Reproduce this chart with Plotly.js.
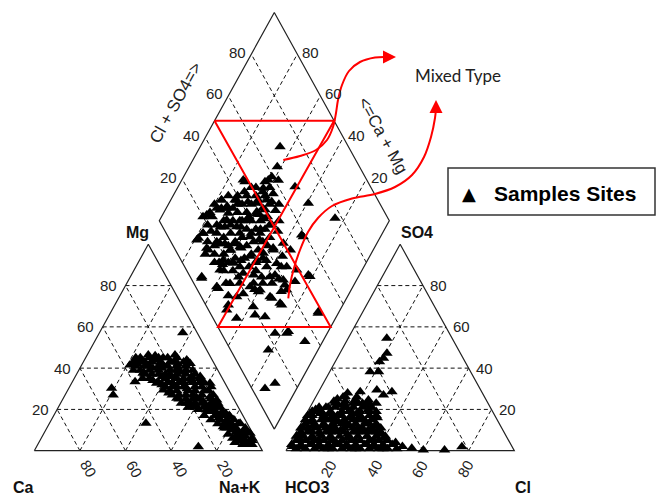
<!DOCTYPE html>
<html><head><meta charset="utf-8">
<script src="https://cdn.plot.ly/plotly-3.0.1.min.js"></script>
<style>html,body{margin:0;padding:0;background:#fff}</style>
</head><body>
<div id="chart" style="width:659px;height:496px"></div>
<script>
// ---------------- DATA (percent values) ----------------
// Cation triangle: Mg % and Na+K % (Ca = 100 - Mg - Na+K)
const cationMg = [57.2,30.2,27,33.4,13.3,1.9,46.4,46.4,43.9,43.9,41.5,42.3,37.5,32.7,29.4,25.4,23,21.3,19.7,14.9,11.6,7.6,3.6,6,42.3,35.9,32.7,24.6,16.5,13.3,8.4,
  44,44,45,43,42,41,40,40,39,38,41,39,37,36,36,35,34,33,32,34,31,30,29,28,27,26,25,24,23,22,21,20,19,18,17,16,15,14,13,12,11,10,9,8,7,6,5,4,3,46,45,43,38,37,35,33,31,29,26,22,20,18,42,40,36,33,
  45,45,45,45,45,43,43,43,43,43,43,43,41,41,41,41,41,41,39,39,39,39,39,39,37,37,37,37,37,37,35,35,35,35,35,33,33,33,33,33,31,31,31,31,31,29,29,29,29,27,27,27,27,27,25,25,25,25,23,23,23,23,23,21,21,21,21,21,19,19,19,17,17,17,15,15,15,13,13,13,11,11,11,9,9,9,7,7,5,5,5,3,3];
const cationNaK = [36.5,18.8,21.1,27.5,42.3,71,26.8,38.5,44.9,31.8,21.2,23.8,29,37.3,41.9,49.8,55.3,60.6,65.8,74,77.1,85,89.9,92.4,47.2,54.8,60.7,67.7,77.6,83.6,90.4,
  25,30,34,38,42,28,32,36,40,45,46,24,33,38,42,48,52,44,40,35,47,52,56,45,50,58,54,62,59,64,57,62,68,71,66,73,70,77,74,80,78,82,85,81,87,84,88,86,92,30,22,27,29,41,30,56,50,60,64,68,66,75,35,43,51,49,
  24,28,32,36,40,22,26,30,34,40,44,46,24,30,34,38,42,46,27,31,35,43,47,50,30,36,39,44,48,52,33,40,45,51,55,38,42,47,53,58,42,45,55,58,62,45,48,53,62,47,53,56,60,65,51,57,60,65,53,57,62,66,69,59,64,66,68,71,67,70,73,71,74,77,74,77,80,77,80,83,79,83,87,84,87,89,86,89,87,90,93,90,94];

// Anion triangle: SO4 % and Cl % (HCO3 = 100 - SO4 - Cl)
const anionSO4 = [54.5,47.2,44.8,43.1,38.3,38.3,28.6,26.2,28.6,29.4,24.6,24.6,27,1.2,0.3,0.3,1.9,
  2,2,3,2,1,3,2,1,3,2,1,4,2,5,6,5,6,4,6,5,7,5,6,8,9,8,9,10,8,9,10,9,8,11,12,12,11,13,12,11,13,12,14,15,15,14,16,15,14,16,17,18,18,17,19,18,20,19,20,21,22,21,23,22,21,25,24,26,23,26,28,19,24,
  1,1,1,1,1,1,1,1,1,1,1,1,3,3,3,3,3,3,3,3,3,3,3,3,5,5,5,5,5,5,5,5,5,5,5,7,7,7,7,7,7,7,7,7,7,7,9,9,9,9,9,9,9,9,9,9,11,11,11,11,11,11,11,11,11,11,13,13,13,13,13,13,13,13,15,15,15,15,15,15,15,15,17,17,17,17,17,17,17,17,19,19,19,19,19,19,19,21,21,21,21,21,21,23,23,23,23,23];
const anionCl = [16.9,20.6,20.3,19.4,17.7,21.4,32.1,12.8,18.2,25.1,18,23.8,29.2,54.5,60,69.3,76.1,
  2,6,10,14,18,22,26,30,34,38,42,46,50,4,8,12,16,20,24,28,32,36,40,3,7,11,15,19,23,27,31,35,38,2,6,10,14,18,22,26,30,34,4,8,12,16,20,24,28,32,1,6,10,14,18,22,26,30,3,8,12,16,20,24,4,10,14,18,28,12,13,2,9,
  4,8,12,16,20,24,28,32,36,40,44,48,1,5,9,13,17,21,25,29,33,37,41,45,2,6,10,14,18,22,26,30,34,38,42,1,4,8,12,16,20,24,28,32,36,40,2,5,10,13,17,21,25,29,33,37,1,4,8,12,16,20,24,28,32,36,2,6,10,14,20,24,28,33,1,4,10,14,18,22,26,30,3,8,12,16,20,24,28,31,2,6,10,15,19,23,27,7,11,15,19,23,27,10,14,18,22,25];

// Diamond: (Cl + SO4) % and (Ca + Mg) %
const diamondClSO4 = [70.3,64.3,59.5,57.2,55.3,53,61.5,46.6,69,77,32.1,38.6,22.7,29,46.5,51.7,53.5,48.6,44.6,31.8,22,11.7,14.3,4.6,22,29.5,32.2,38.2,44.1,40.8,35.6,28.9,23.7,18.4,22,14.6,9.1,15.7,23.9,15.4,7.9,10.2,20.2,22.9,27.2,23.6,29.9,32.7,38.8,39.7,34.7,44.4,40.8,35.7,37.4,42.6,48.5,47.9,58.8,52.1,46.9,23.3,28.4,34.3,16.4,5.7,11.3,12.8,14,5,9.4,9.8,19,33,30.3,26,37.3,39.2,44.4,51.8,47.3,58.5,29.5,67.2,46.3,37.9,
  20,25,30,35,40,45,28,33,38,43,48,18,23,27,32,37,42,47,22,26,31,36,41,17,14,12,16,24,30,35,40,44,50,52,46,39,33,28,21,19,25,31,37,43,49,53,56,34,29,24,27,21,
  16,16,16,16,16,20,20,20,20,20,20,24,24,24,24,24,24,28,28,28,28,28,28,32,32,32,32,32,32,32,36,36,36,36,36,36,40,40,40,40,40,44,44,44,44,44,48,48,48,48,48,52,52,52,56,56,
  26,30,34,38,42,30,20,14,12,45,50,36];
const diamondCaMg = [65.3,61.7,61.7,62.4,63.4,62.6,58,72.1,39.4,24.2,77.9,71.3,80.1,76.2,61.9,58.3,55.7,56.7,59.8,71.8,80.8,79.1,71.7,67.8,72,70.9,64.9,62.2,59.4,53.2,56.7,58.7,62.2,62.8,57.6,61.8,59.2,54.2,50.9,48.1,49.3,43,38.5,31,39.6,44.7,33.6,27.7,28,31.9,38.4,33.6,38.7,42.3,47,43.4,40.7,28.5,33.6,21.1,8.7,22.7,17.6,7.7,21.6,13.8,10.7,78.8,72.8,68.1,58.1,49.8,35.8,26.6,32.5,39.9,36.7,30,26.4,22.2,9,34.7,17.3,49.2,73.3,72.1,
  75,72,68,65,62,58,78,74,70,66,62,70,66,62,60,57,54,51,58,55,52,50,47,62,66,72,78,80,76,71,68,70,66,60,55,52,48,46,52,46,42,42,44,44,46,52,57,63,58,62,70,68,
  60,64,68,74,78,56,60,64,70,78,82,54,58,64,68,74,78,50,54,62,66,72,80,48,52,56,62,68,74,78,46,54,60,64,68,76,50,56,60,64,72,48,52,56,64,68,50,54,58,64,68,48,56,62,52,60,
  44,40,36,34,36,46,50,56,52,38,36,30];

const gridLevels = [20, 40, 60, 80];
const gridLabels = ['20', '40', '60', '80'];
const mixedBoundary = {top: 48, bottom: 49};   // Mixed-type hourglass corners (% on diamond edges)

// ---------------- GEOMETRY (page pixels) ----------------
const CAT = {x0: 34.3, w: 228, yb: 450.7, h: 206.4};
const AN  = {x0: 286,  w: 228.3, yb: 450.7, h: 206.4};
const DIA = {cx: 274.3, cy: 220.8, hw: 115, hh: 208.3};
function catXY(mg, nak) { return [CAT.x0 + CAT.w * (nak + mg / 2) / 100, CAT.yb - CAT.h * mg / 100]; }
function anXY(so4, cl)  { return [AN.x0 + AN.w * (cl + so4 / 2) / 100, AN.yb - AN.h * so4 / 100]; }
function diaXY(a, c)    { return [DIA.cx + DIA.hw * (a - c) / 100, DIA.cy + DIA.hh - DIA.hh * (a + c) / 100]; }

function seg(xs, ys, p, q) { xs.push(p[0], q[0], null); ys.push(p[1], q[1], null); }
function poly(xs, ys, pts) { pts.forEach(p => { xs.push(p[0]); ys.push(p[1]); }); xs.push(null); ys.push(null); }

const gx = [], gy = [];
gridLevels.forEach(k => {
  seg(gx, gy, catXY(k, 0), catXY(k, 100 - k));
  seg(gx, gy, catXY(0, 100 - k), catXY(100 - k, 0));
  seg(gx, gy, catXY(0, k), catXY(100 - k, k));
  seg(gx, gy, anXY(k, 0), anXY(k, 100 - k));
  seg(gx, gy, anXY(0, 100 - k), anXY(100 - k, 0));
  seg(gx, gy, anXY(0, k), anXY(100 - k, k));
  seg(gx, gy, diaXY(k, 0), diaXY(k, 100));
  seg(gx, gy, diaXY(0, k), diaXY(100, k));
});
const ox = [], oy = [];
poly(ox, oy, [catXY(0, 0), catXY(0, 100), catXY(100, 0), catXY(0, 0)]);
poly(ox, oy, [anXY(0, 0), anXY(0, 100), anXY(100, 0), anXY(0, 0)]);
poly(ox, oy, [diaXY(0, 0), diaXY(100, 0), diaXY(100, 100), diaXY(0, 100), diaXY(0, 0)]);

const px = [], py = [];
cationMg.forEach((m, i) => { const p = catXY(m, cationNaK[i]); px.push(p[0]); py.push(p[1]); });
anionSO4.forEach((s, i) => { const p = anXY(s, anionCl[i]); px.push(p[0]); py.push(p[1]); });
diamondClSO4.forEach((a, i) => { const p = diaXY(a, diamondCaMg[i]); px.push(p[0]); py.push(p[1]); });

const rx = [], ry = [];
poly(rx, ry, [diaXY(mixedBoundary.top, 100), diaXY(100, mixedBoundary.top), diaXY(0, mixedBoundary.bottom),
              diaXY(mixedBoundary.bottom, 0), diaXY(mixedBoundary.top, 100)]);

// pointer arrows (decoration, page pixels)
const arrow1X = [283.3, 300, 316, 327, 333, 336, 338, 342, 349, 360, 375, 388];
const arrow1Y = [160, 156, 150, 140, 127, 113, 100, 85, 71, 62, 57.5, 57];
const arrow2X = [288.3, 290, 294, 300, 308, 318, 332, 352, 375, 395, 412, 424, 431, 435, 436];
const arrow2Y = [298.3, 285, 268, 250, 232, 218, 206, 198.5, 194, 187, 175, 157, 137, 118, 108];

const traces = [
  {x: gx, y: gy, mode: 'lines', line: {color: '#111', width: 1, dash: '4px,3px'}, hoverinfo: 'skip'},
  {x: ox, y: oy, mode: 'lines', line: {color: '#222', width: 1.2}, hoverinfo: 'skip'},
  {x: px, y: py, mode: 'markers', name: 'Samples Sites', marker: {symbol: 'triangle-up', size: 10, color: '#000'}, hoverinfo: 'skip'},
  {x: rx, y: ry, mode: 'lines', line: {color: '#ff0000', width: 2}, hoverinfo: 'skip'},
  {x: arrow1X, y: arrow1Y, mode: 'lines', line: {color: '#ff0000', width: 2, shape: 'spline'}, hoverinfo: 'skip'},
  {x: arrow2X, y: arrow2Y, mode: 'lines', line: {color: '#ff0000', width: 2, shape: 'spline'}, hoverinfo: 'skip'}
];

const tickFont = {family: 'Liberation Sans, Arial, sans-serif', size: 15, color: '#222'};
const titleFont = {family: 'Liberation Sans, Arial, sans-serif', size: 17, color: '#222'};
const boldFont = {family: 'Liberation Sans, Arial, sans-serif', size: 16, color: '#111', weight: 'bold'};
const ann = [];
function txt(x, y, text, font, angle) {
  ann.push({x, y, xref: 'x', yref: 'y', text, showarrow: false, xanchor: 'center', yanchor: 'middle', font, textangle: angle || 0});
}
gridLevels.forEach((k, i) => {
  const l = gridLabels[i];
  let p = catXY(k, 0);            txt(p[0] - 17, p[1], l, tickFont);
  p = catXY(0, 100 - k);          txt(p[0] + 8.5, p[1] + 18, l, tickFont, 60);
  p = anXY(k, 100 - k);           txt(p[0] + 16, p[1], l, tickFont);
  p = anXY(0, k);                 txt(p[0] - 3, p[1] + 18, l, tickFont, -60);
  p = diaXY(k, 100);              txt(p[0] - 13.5, p[1] - 2, l, tickFont);
  p = diaXY(100, k);              txt(p[0] + 13.5, p[1] - 2, l, tickFont);
});
txt(175, 103, 'Cl + SO4=>', titleFont, -61);
txt(383, 135, '<=Ca + Mg', titleFont, 61);
txt(137, 232, 'Mg', boldFont);
txt(417, 232, 'SO4', boldFont);
txt(23, 487, 'Ca', boldFont);
txt(240, 487, 'Na+K', boldFont);
txt(307, 487, 'HCO3', boldFont);
txt(523, 487, 'Cl', boldFont);
txt(458, 75, 'Mixed Type', {family: 'Lato, Liberation Sans, sans-serif', size: 17, color: '#222'});
ann.push({x: 469, y: 193, xref: 'x', yref: 'y', text: '▲', showarrow: false, xanchor: 'center', yanchor: 'middle',
  font: {family: 'DejaVu Sans, sans-serif', size: 18, color: '#000'}});
ann.push({x: 492, y: 193, xref: 'x', yref: 'y', text: 'Samples Sites', showarrow: false, xanchor: 'left', yanchor: 'middle',
  font: {family: 'Liberation Sans, Arial, sans-serif', size: 21, color: '#000', weight: 'bold'}});
ann.push({x: 396, y: 57, ax: 386, ay: 57, axref: 'x', ayref: 'y', xref: 'x', yref: 'y', text: '', showarrow: true,
  arrowhead: 2, arrowsize: 1.3, arrowwidth: 2, arrowcolor: '#ff0000'});
ann.push({x: 436, y: 100, ax: 436, ay: 110, axref: 'x', ayref: 'y', xref: 'x', yref: 'y', text: '', showarrow: true,
  arrowhead: 2, arrowsize: 1.3, arrowwidth: 2, arrowcolor: '#ff0000'});

const layout = {
  width: 659, height: 496, margin: {l: 0, r: 0, t: 0, b: 0},
  paper_bgcolor: '#fff', plot_bgcolor: '#fff', showlegend: false,
  xaxis: {range: [0, 659], visible: false, fixedrange: true},
  yaxis: {range: [496, 0], visible: false, fixedrange: true},
  annotations: ann,
  shapes: [{type: 'rect', xref: 'x', yref: 'y', x0: 448, x1: 655, y0: 168, y1: 215, line: {color: '#333', width: 1.5}}]
};
Plotly.newPlot('chart', traces, layout, {staticPlot: true, displayModeBar: false});
</script>
</body></html>
